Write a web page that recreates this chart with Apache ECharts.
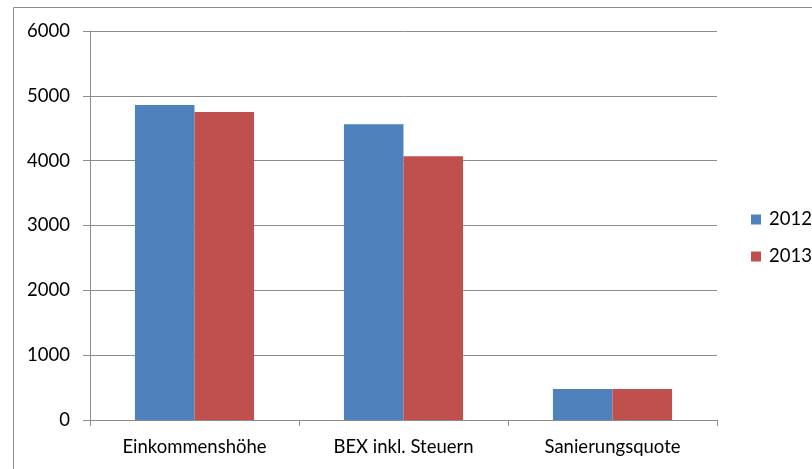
<!DOCTYPE html>
<html><head><meta charset="utf-8">
<script src="https://cdn.jsdelivr.net/npm/echarts@6/dist/echarts.min.js"></script>
<style>html,body{margin:0;padding:0;background:#fff}#c{width:812px;height:469px}</style>
</head><body><div id="c"></div>
<script>
var categories = ['Einkommenshöhe', 'BEX inkl. Steuern', 'Sanierungsquote'];
var series2012 = [4860, 4560, 480];
var series2013 = [4750, 4070, 478];
var seriesNames = ['2012', '2013'];
var yTicks = [0, 1000, 2000, 3000, 4000, 5000, 6000];

var chart = echarts.init(document.getElementById('c'));
var font = 'Lato, "Open Sans", sans-serif';
var fs = 18.5;
chart.setOption({
  animation: false,
  graphic: [{type: 'rect', shape: {x: 13.5, y: 7.5, width: 900, height: 600}, style: {fill: 'none', stroke: '#8c8c8c', lineWidth: 1}}],
  grid: {left: 90, right: 95, top: 31, bottom: 49},
  legend: {
    orient: 'vertical', left: 746, top: 205, itemWidth: 10, itemHeight: 10, itemGap: 18, itemStyle: {borderWidth: 0},
    icon: 'rect', data: seriesNames,
    textStyle: {fontFamily: font, fontSize: fs, color: '#000', padding: [0, 0, 0, 3]}
  },
  xAxis: {
    type: 'category', data: categories,
    axisLine: {lineStyle: {color: '#8c8c8c'}},
    axisTick: {show: true, length: 6, lineStyle: {color: '#8c8c8c'}},
    axisLabel: {fontFamily: font, fontSize: fs, color: '#000', margin: 18}
  },
  yAxis: {
    type: 'value', min: yTicks[0], max: yTicks[yTicks.length - 1], interval: 1000,
    axisLine: {show: true, lineStyle: {color: '#8c8c8c'}},
    axisTick: {show: true, length: 7, lineStyle: {color: '#8c8c8c'}},
    splitLine: {lineStyle: {color: '#8c8c8c'}},
    axisLabel: {fontFamily: font, fontSize: fs, color: '#000', margin: 20, formatter: function (v) { return String(v); }}
  },
  series: [
    {name: seriesNames[0], type: 'bar', data: series2012, barGap: '0%', barCategoryGap: '43%',
     itemStyle: {color: '#4F81BD'}},
    {name: seriesNames[1], type: 'bar', data: series2013, barGap: '0%', barCategoryGap: '43%',
     itemStyle: {color: '#C0504D'}}
  ]
});
</script></body></html>
